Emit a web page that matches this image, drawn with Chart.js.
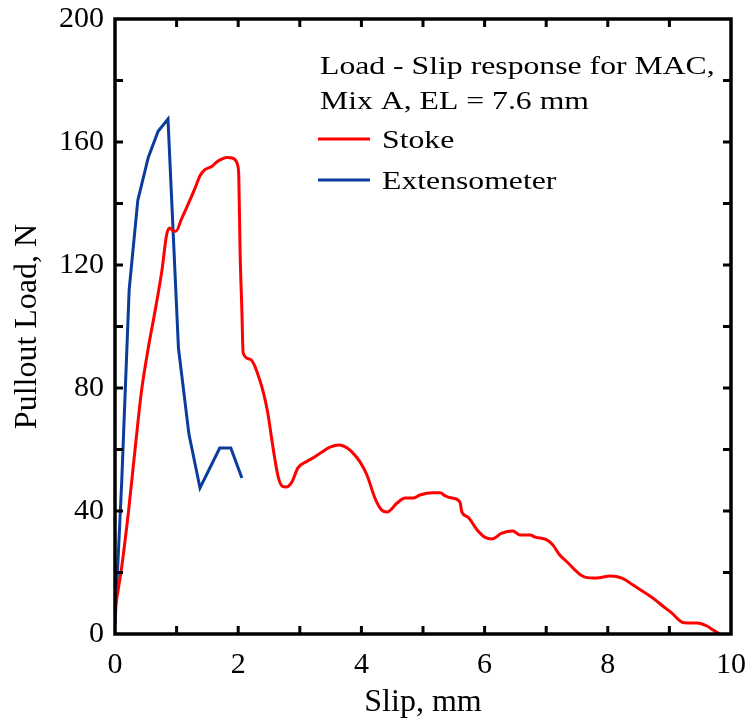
<!DOCTYPE html>
<html>
<head>
<meta charset="utf-8">
<title>Load - Slip response</title>
<script src="https://cdn.jsdelivr.net/npm/chart.js@4.4.1/dist/chart.umd.min.js"></script>
<style>
  html, body { margin: 0; padding: 0; background: #fff; }
  #wrap { width: 751px; height: 723px; position: relative; }
</style>
</head>
<body>
<div id="wrap"><canvas id="chart"></canvas></div>
<script>
// Stoke (red) readings, slip in mm / load in N
const stokeSlip = [0, 0.11, 0.22, 0.32, 0.43, 0.54, 0.65, 0.76, 0.84, 0.89, 0.95, 0.99, 1.08, 1.17, 1.3, 1.38,
  1.46, 1.57, 1.65, 1.74, 1.82, 1.9, 1.96, 1.99, 2.01, 2.03, 2.06, 2.08, 2.19, 2.35, 2.47, 2.57, 2.65, 2.72,
  2.78, 2.87, 2.97, 3.13, 3.21, 3.36, 3.49, 3.64, 3.77, 3.86, 3.98, 4.09, 4.22, 4.33, 4.42, 4.58, 4.71, 4.84,
  4.95, 5.16, 5.28, 5.36, 5.47, 5.6, 5.63, 5.73, 5.88, 6.0, 6.12, 6.28, 6.46, 6.57, 6.74, 6.82, 7.01, 7.11,
  7.22, 7.34, 7.5, 7.63, 7.82, 8.04, 8.23, 8.41, 8.73, 8.93, 9.04, 9.2, 9.3, 9.45, 9.61, 9.71, 9.82];
const stokeLoad = [8, 22, 40, 59, 79, 93, 105, 118, 130, 132, 131, 131, 135, 139, 145, 149,
  151, 152, 153.5, 154.5, 155, 154.8, 154, 152.5, 148.6, 125, 105, 91.4, 89.4, 82.6, 73, 60, 51, 48,
  47.8, 49.4, 54, 56.3, 57.2, 59.2, 60.8, 61.5, 60.5, 58.9, 55.9, 51.7, 44.2, 40.3, 39.7, 42.6, 44.2, 44.2,
  45.2, 45.9, 45.9, 44.9, 44.2, 42.9, 39.7, 38, 33.8, 31.5, 30.9, 32.8, 33.5, 32.2, 32.2, 31.5, 30.6, 28.9,
  25.7, 23.4, 20.2, 18.5, 18.2, 18.9, 18.2, 15.9, 11.7, 8.5, 6.8, 3.9, 3.6, 3.6, 2.6, 1.3, 0];

// Extensometer (blue) readings
const extSlip = [0, 0.11, 0.23, 0.37, 0.54, 0.7, 0.86, 1.03, 1.2, 1.38, 1.7, 1.88, 2.06];
const extLoad = [3, 50, 112, 141, 155, 163.5, 167.5, 93, 65, 47.5, 60.5, 60.5, 50.7];

const xLabels = [0, 2, 4, 6, 8, 10];
const yLabels = [0, 40, 80, 120, 160, 200];
const noteLines = ['Load - Slip response for MAC,', 'Mix A, EL = 7.6 mm'];
const seriesNames = ['Stoke', 'Extensometer'];
const seriesColors = ['#ff0000', '#0a3c9e'];

const FONT = '"Liberation Serif", "Times New Roman", serif';

const toPoints = (xs, ys) => xs.map((x, i) => ({ x, y: ys[i] }));

// box round the plot with ticks pointing inwards on all four sides
const framePlugin = {
  id: 'frame',
  afterDatasetsDraw(chart) {
    const { ctx, chartArea: a, scales: { x, y } } = chart;
    const seg = (x1, y1, x2, y2) => { ctx.beginPath(); ctx.moveTo(x1, y1); ctx.lineTo(x2, y2); ctx.stroke(); };
    ctx.save();
    ctx.strokeStyle = '#000';
    ctx.lineWidth = 3;
    x.ticks.forEach(t => {
      const px = x.getPixelForValue(t.value);
      if (px <= a.left + 1 || px >= a.right - 1) return;
      seg(px, a.bottom, px, a.bottom - 8);
      seg(px, a.top, px, a.top + 8);
    });
    y.ticks.forEach(t => {
      const py = y.getPixelForValue(t.value);
      if (py <= a.top + 1 || py >= a.bottom - 1) return;
      seg(a.left, py, a.left + 8, py);
      seg(a.right, py, a.right - 8, py);
    });
    ctx.lineWidth = 3.5;
    ctx.strokeRect(a.left, a.top, a.right - a.left, a.bottom - a.top);
    ctx.restore();
  }
};

// note text and legend inside the plot, top right
const notePlugin = {
  id: 'note',
  afterDraw(chart) {
    const { ctx } = chart;
    const left = 320;
    const stretch = 1.22;
    const text = (s, x0, base) => {
      ctx.save();
      ctx.translate(x0, base);
      ctx.scale(stretch, 1);
      ctx.fillText(s, 0, 0);
      ctx.restore();
    };
    ctx.save();
    ctx.fillStyle = '#000';
    ctx.font = '26px ' + FONT;
    ctx.textBaseline = 'alphabetic';
    text(noteLines[0], left, 74);
    text(noteLines[1], left, 109);
    const rows = [139, 180];
    seriesNames.forEach((name, i) => {
      ctx.strokeStyle = seriesColors[i];
      ctx.lineWidth = 3;
      ctx.beginPath();
      ctx.moveTo(318, rows[i]);
      ctx.lineTo(370, rows[i]);
      ctx.stroke();
      text(name, 382, rows[i] + 9);
    });
    ctx.restore();
  }
};

new Chart(document.getElementById('chart'), {
  type: 'line',
  data: {
    datasets: [
      {
        label: seriesNames[0],
        data: toPoints(stokeSlip, stokeLoad),
        borderColor: seriesColors[0],
        borderWidth: 3,
        pointRadius: 0,
        cubicInterpolationMode: 'monotone',
        fill: false
      },
      {
        label: seriesNames[1],
        data: toPoints(extSlip, extLoad),
        borderColor: seriesColors[1],
        borderWidth: 3,
        pointRadius: 0,
        tension: 0,
        fill: false
      }
    ]
  },
  options: {
    responsive: true,
    maintainAspectRatio: false,
    animation: false,
    layout: { padding: { top: 19, right: 20, left: 0, bottom: 0 } },
    plugins: { legend: { display: false }, tooltip: { enabled: false } },
    scales: {
      x: {
        type: 'linear',
        min: 0,
        max: 10,
        grid: { display: false, drawTicks: false },
        border: { display: false },
        ticks: {
          stepSize: 1,
          autoSkip: false,
          maxRotation: 0,
          padding: 13,
          color: '#000',
          font: { family: FONT, size: 30 },
          callback: v => xLabels.includes(v) ? String(v) : ''
        },
        title: {
          display: true,
          text: 'Slip, mm',
          color: '#000',
          font: { family: FONT, size: 32 },
          padding: { top: 0, bottom: 1 }
        },
        afterFit: s => { s.height = 89; s.paddingLeft = 0; s.paddingRight = 0; }
      },
      y: {
        min: 0,
        max: 200,
        grid: { display: false, drawTicks: false },
        border: { display: false },
        ticks: {
          stepSize: 20,
          autoSkip: false,
          padding: 11,
          color: '#000',
          font: { family: FONT, size: 30 },
          callback: v => yLabels.includes(v) ? String(v) : ''
        },
        title: {
          display: true,
          text: 'Pullout Load, N',
          color: '#000',
          font: { family: FONT, size: 32 },
          padding: { top: 8, bottom: 0 }
        },
        afterFit: s => { s.width = 115; s.paddingTop = 0; s.paddingBottom = 0; }
      }
    }
  },
  plugins: [framePlugin, notePlugin]
});
</script>
</body>
</html>
